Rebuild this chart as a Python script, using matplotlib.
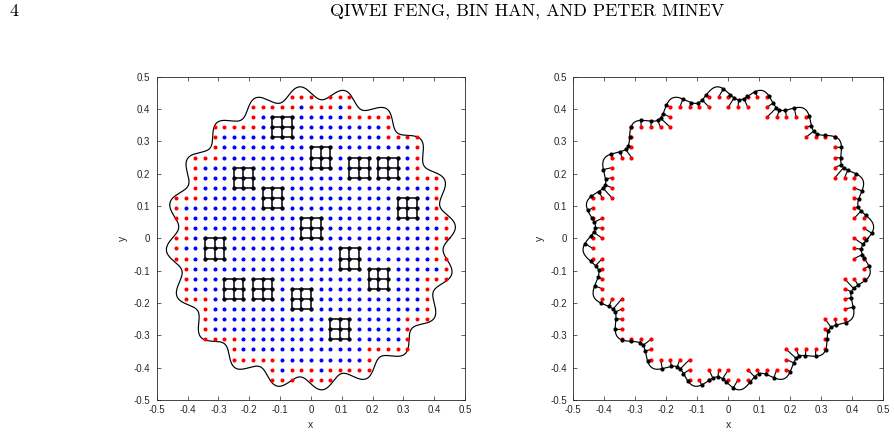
import numpy as np
import matplotlib
matplotlib.use("Agg")
import matplotlib.pyplot as plt

# ---------------- data ----------------
H = 1 / 32                       # grid spacing of the uniform mesh
R0 = 0.45                        # interface: r = R0 + AMP*sin(NPETAL*theta)
AMP = 0.02
NPETAL = 20
TICKS = [-0.5, -0.4, -0.3, -0.2, -0.1, 0, 0.1, 0.2, 0.3, 0.4, 0.5]
TICK_LABELS = ['-0.5', '-0.4', '-0.3', '-0.2', '-0.1', '0',
               '0.1', '0.2', '0.3', '0.4', '0.5']
# centres of the 3x3 stencils drawn in the left panel (grid index units)
STENCIL_I = [-3, 1, 5, 8, -7, -4, 10, 0, -10, 4, 7, -8, -5, -1, 3]
STENCIL_J = [11, 8, 7, 7, 6, 4, 3, 1, -1, -2, -4, -5, -5, -6, -9]
PAGE_NO = "4"
HEADER = "QIWEI FENG, BIN HAN, AND PETER MINEV"

BLUE = (0, 0, 1)
RED = (1, 0, 0)
AXCOL = '#262626'

plt.rcParams['axes.unicode_minus'] = False
plt.rcParams['font.family'] = ['Liberation Sans', 'DejaVu Sans']

# ---------------- geometry ----------------
t = np.linspace(0, 2 * np.pi, 6001)
rr = R0 + AMP * np.sin(NPETAL * t)
cx, cy = rr * np.cos(t), rr * np.sin(t)

idx = np.arange(-16, 17)
I, J = np.meshgrid(idx, idx, indexing='ij')
X, Y = I * H, J * H
inside = np.hypot(X, Y) < R0 + AMP * np.sin(NPETAL * np.arctan2(Y, X))

# a point is regular if its whole 3x3 stencil is inside the interface
padded = np.pad(inside, 1, constant_values=False)
n = inside.shape[0]
allin = np.ones_like(inside)
for di in (-1, 0, 1):
    for dj in (-1, 0, 1):
        allin &= padded[1 + di:1 + di + n, 1 + dj:1 + dj + n]
regular = inside & allin
irregular = inside & ~allin

xr, yr = X[irregular], Y[irregular]
# base point on the interface for every irregular point (closest point)
d = (xr[:, None] - cx[None, :]) ** 2 + (yr[:, None] - cy[None, :]) ** 2
k = d.argmin(axis=1)
bx, by = cx[k], cy[k]

# ---------------- figure ----------------
fig = plt.figure(figsize=(8.94, 4.43), dpi=100)
ax1 = fig.add_axes([0.1753, 0.0971, 0.3449, 0.7298])
ax2 = fig.add_axes([0.6413, 0.0971, 0.3468, 0.7298])


def style(ax):
    ax.set_xlim(-0.5, 0.5)
    ax.set_ylim(-0.5, 0.5)
    ax.set_xticks(TICKS)
    ax.set_xticklabels(TICK_LABELS)
    ax.set_yticks(TICKS)
    ax.set_yticklabels(TICK_LABELS)
    ax.tick_params(direction='in', top=True, right=True, length=2.6,
                   width=0.5, labelsize=7, colors=AXCOL, pad=3.5)
    ax.tick_params(axis='y', pad=4.5)
    for s in ax.spines.values():
        s.set_color(AXCOL)
        s.set_linewidth(0.6)
    ax.set_xlabel('x', fontsize=7.5, color=AXCOL, labelpad=4)
    ax.set_ylabel('y', fontsize=7.5, color=AXCOL, labelpad=4)


# left panel: grid points and stencils
ax1.plot(cx, cy, color='k', lw=0.85)
ax1.plot(X[regular], Y[regular], 'o', color=BLUE, ms=2.9, mew=0)
ax1.plot(xr, yr, 'o', color=RED, ms=2.9, mew=0)
for i, j in zip(STENCIL_I, STENCIL_J):
    for m in (-1, 0, 1):
        ax1.plot([(i - 1) * H, (i + 1) * H], [(j + m) * H] * 2, color='k', lw=1.1)
        ax1.plot([(i + m) * H] * 2, [(j - 1) * H, (j + 1) * H], color='k', lw=1.1)
    sx, sy = np.meshgrid([i - 1, i, i + 1], [j - 1, j, j + 1])
    ax1.plot(sx.ravel() * H, sy.ravel() * H, 'o', color='k', ms=2.9, mew=0)
style(ax1)

# right panel: irregular points joined to their base points on the interface
ax2.plot(cx, cy, color='k', lw=0.85)
for x0, y0, x1, y1 in zip(xr, yr, bx, by):
    ax2.plot([x0, x1], [y0, y1], color='k', lw=0.8)
ax2.plot(xr, yr, 'o', color=RED, ms=3.0, mew=0)
ax2.plot(bx, by, 'o', color='k', ms=3.0, mew=0)
style(ax2)

fig.text(10 / 894, 1 - 11 / 443, PAGE_NO, fontfamily='cmr10', fontsize=13,
         ha='left', va='center')
fig.text(527 / 894, 1 - 11 / 443, HEADER, fontfamily='cmr10', fontsize=13,
         ha='center', va='center')

fig.savefig('out.png', dpi=100)
